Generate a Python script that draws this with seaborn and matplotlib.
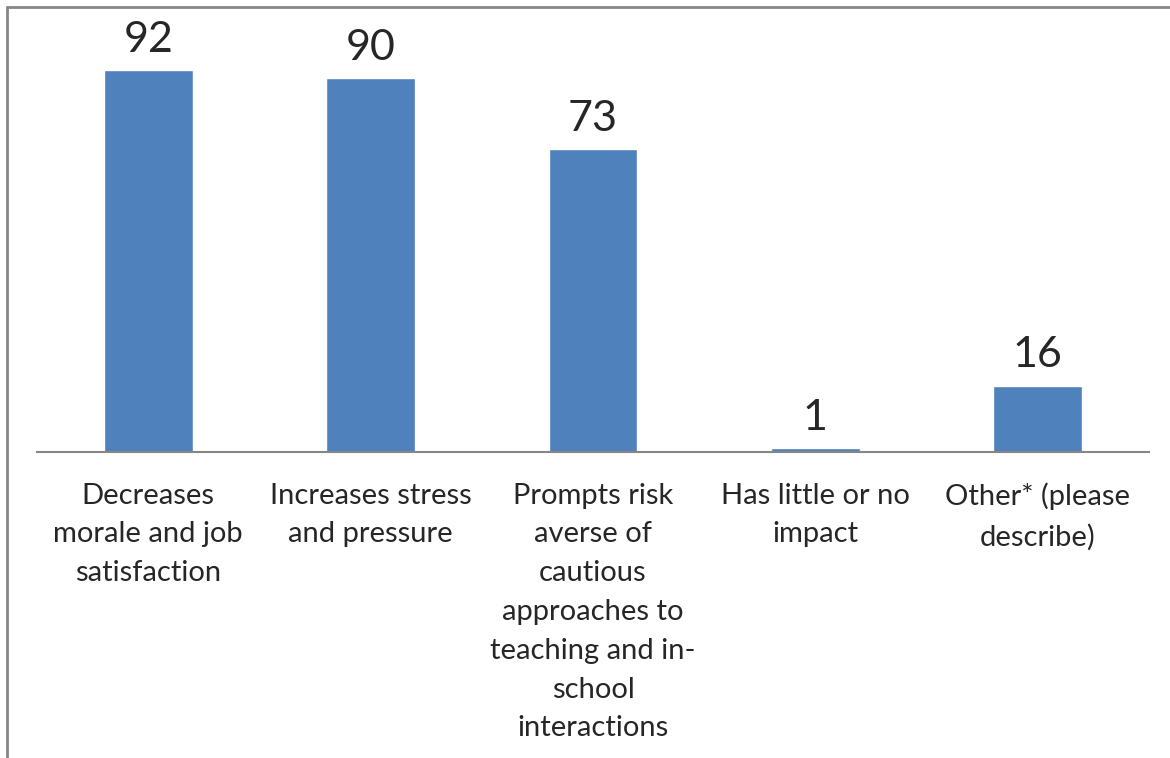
import matplotlib
matplotlib.use("Agg")
import matplotlib.pyplot as plt
from matplotlib.lines import Line2D
import seaborn as sns
import pandas as pd

# 数据
categories = [
    "Decreases\nmorale and job\nsatisfaction",
    "Increases stress\nand pressure",
    "Prompts risk\naverse of\ncautious\napproaches to\nteaching and in-\nschool\ninteractions",
    "Has little or no\nimpact",
    "Other* (please\ndescribe)",
]
counts = [92, 90, 73, 1, 16]

sns.set_style("white")
plt.rcParams['font.family'] = ['Lato', 'DejaVu Sans']

W, H = 1170, 758
fig = plt.figure(figsize=(W / 100, H / 100), dpi=100)
ax = fig.add_axes([37 / W, 1 - 452 / H, (1149 - 37) / W, (452 - 7) / H])

df = pd.DataFrame({"cat": categories, "n": counts})
sns.barplot(data=df, x="cat", y="n", color="#4F81BD", saturation=1, width=0.4, ax=ax)

ax.set_xlim(-0.5, len(categories) - 0.5)
ax.set_ylim(0, 107.2)
for side in ["top", "left", "right"]:
    ax.spines[side].set_visible(False)
ax.spines["bottom"].set_color("#868686")
ax.spines["bottom"].set_linewidth(1.5)
ax.set_yticks([])
ax.set_xlabel("")
ax.set_ylabel("")

# 分类边界刻度
ax.set_xticks([i - 0.5 for i in range(len(categories) + 1)], minor=True)
ax.tick_params(axis="x", which="minor", length=7.2, width=1.5, color="#868686", direction="out")
ax.tick_params(axis="x", which="major", length=0, pad=22)
for lbl in ax.get_xticklabels():
    lbl.set_fontsize(21)
    lbl.set_linespacing(1.61)
    lbl.set_va("top")

for c in ax.containers:
    ax.bar_label(c, fontsize=31, padding=8)

# 外框
fig.add_artist(Line2D([7 / W, 1], [1 - 7 / H, 1 - 7 / H], color="#868686", lw=2))
fig.add_artist(Line2D([7 / W, 7 / W], [0, 1 - 7 / H], color="#868686", lw=2))

fig.savefig("out.png", dpi=100)
